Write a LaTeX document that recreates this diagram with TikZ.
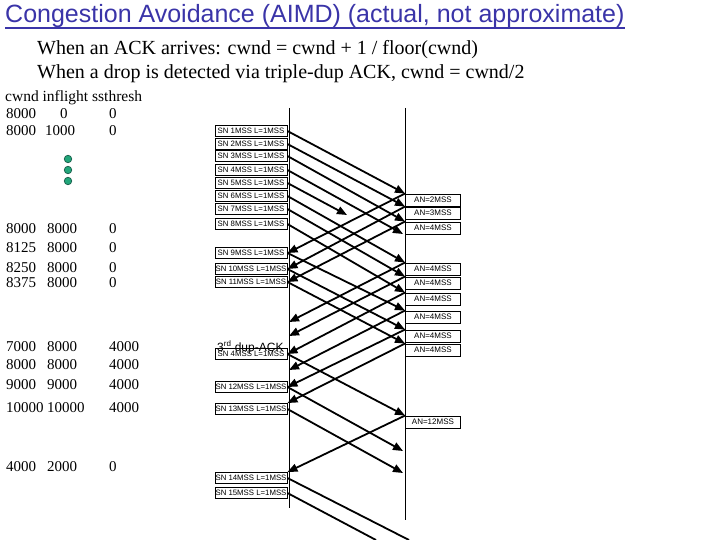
\documentclass[tikz,border=0pt]{standalone}
\usepackage{fontspec}
\setmainfont{Liberation Serif}
\newfontfamily\titlefont{Liberation Sans}
\newfontfamily\segfont{Liberation Sans}
\usetikzlibrary{arrows.meta}

\definecolor{titleblue}{RGB}{58,52,168}
\definecolor{dotgreen}{RGB}{34,166,122}
\definecolor{dotedge}{RGB}{22,92,72}

\begin{document}
\begin{tikzpicture}[x=1pt, y=-1pt,
    % --- Styles ---
    title text/.style={font=\titlefont\fontsize{25}{25}\selectfont, text=titleblue, anchor=base west, inner sep=0pt},
    rule text/.style={font=\fontsize{20}{20}\selectfont, anchor=base west, inner sep=0pt},
    num text/.style={font=\fontsize{15}{15}\selectfont, anchor=west, inner sep=0pt},
    % Segment boxes (sender) and ack boxes (receiver)
    seg box/.style={draw, line width=0.9pt, minimum width=72pt, minimum height=11pt, inner sep=0pt, font=\segfont\fontsize{7.8}{7.8}\selectfont},
    ack box/.style={draw, line width=0.9pt, minimum width=55pt, minimum height=12pt, inner sep=0pt, anchor=west, font=\segfont\fontsize{8}{8}\selectfont},
    msg arrow/.style={line width=1.8pt, -{Triangle[length=10pt, width=8pt]}},
    cut line/.style={line width=1.8pt},
    time line/.style={line width=0.9pt},
    dot node/.style={circle, draw=dotedge, fill=dotgreen, line width=0.7pt, minimum size=7.5pt, inner sep=0pt}
]

\useasboundingbox (0,0) rectangle (720,540);

%================HEADER================
\node[title text] (title) at (5,23) {Congestion Avoidance (AIMD) (actual, not approximate)};
\draw[titleblue, line width=1.2pt] ([yshift=-5pt]title.base west) -- ([yshift=-5pt]title.base east);

\node[rule text] (rule1) at (37,55) {When an ACK arrives: cwnd = cwnd + 1 / floor(cwnd)};
\node[rule text] (rule2) at (37,79) {When a drop is detected via triple-dup ACK, cwnd = cwnd/2};

%================TABLE================
\node[font=\fontsize{15.5}{15.5}\selectfont, anchor=base west, inner sep=0pt] (colhead) at (5,102) {cwnd inflight ssthresh};

\foreach \y/\a/\bx/\b/\c in {114/8000/60/0/0, 131/8000/45/1000/0,
    229/8000/47/8000/0, 248/8125/47/8000/0, 268/8250/47/8000/0, 283/8375/47/8000/0,
    347/7000/47/8000/4000, 365/8000/47/8000/4000, 385/9000/47/9000/4000,
    408/10000/47/10000/4000, 467/4000/47/2000/0} {
    \node[num text] (cw\y) at (6,\y) {\a};
    \node[num text] (fl\y) at (\bx,\y) {\b};
    \node[num text] (ss\y) at (109,\y) {\c};
}

% dots for skipped rows
\foreach \y [count=\i] in {159,170,181}
    \node[dot node] (dot\i) at (68,\y) {};

%================TIME LINES================
\coordinate (sTop) at (289,108);
\coordinate (sBot) at (289,508);
\coordinate (rTop) at (405,108);
\coordinate (rBot) at (405,520);
\draw[time line] (sTop) -- (sBot);
\draw[time line] (rTop) -- (rBot);

%================SEGMENTS================
\foreach \n/\y/\k in {sn1/131/1, sn2/144/2, sn3/156/3, sn4/170/4, sn5/183/5,
    sn6/196/6, sn7/209/7, sn8/224/8, sn9/253/9, sn10/269/10, sn11/282/11,
    snr4/354/4, sn12/387/12, sn13/409/13, sn14/478/14, sn15/493/15}
    \node[seg box] (\n) at (251,\y) {SN \k MSS L=1MSS};

\node[font=\titlefont\fontsize{12}{12}\selectfont, anchor=base west, inner sep=0pt] (dupnote) at (217,351) {3\textsuperscript{rd} dup-ACK};

\foreach \n/\y/\k in {a1/200/2, a2/213/3, a3/228/4, a4/269/4, a5/283/4,
    a6/299/4, a7/317/4, a8/336/4, a9/350/4, a10/422/12}
    \node[ack box] (\n) at (405,\y) {AN=\k MSS};

% free ends on the time lines
\coordinate (r4) at (403,234);
\coordinate (lost5) at (347,215);
\coordinate (r12) at (403,451);
\coordinate (r13) at (403,473);
\coordinate (k4) at (289,322);
\coordinate (k5) at (289,336);
\coordinate (k7) at (289,370);
\coordinate (e14) at (409,540);
\coordinate (e15) at (376,540);

% data going right
\foreach \from/\to in {sn1/a1.north west, sn2/a2.north west, sn3/a3.north west,
    sn4/r4, sn5/lost5, sn6/a4.north west, sn7/a5.north west, sn8/a6.north west,
    sn9/a7.north west, sn10/a8.north west, sn11/a9.north west,
    snr4/a10.north west, sn12/r12, sn13/r13}
    \draw[msg arrow] (\from.east) -- (\to);
\draw[cut line] (sn14.east) -- (e14);
\draw[cut line] (sn15.east) -- (e15);

% acks going left
\foreach \from/\to in {a1/sn9.east, a2/sn10.east, a3/sn11.east, a4/k4, a5/k5,
    a6/snr4.east, a7/k7, a8/sn12.east, a9/sn13.north east, a10/sn14.north east}
    \draw[msg arrow] (\from.north west) -- (\to);

\end{tikzpicture}
\end{document}
